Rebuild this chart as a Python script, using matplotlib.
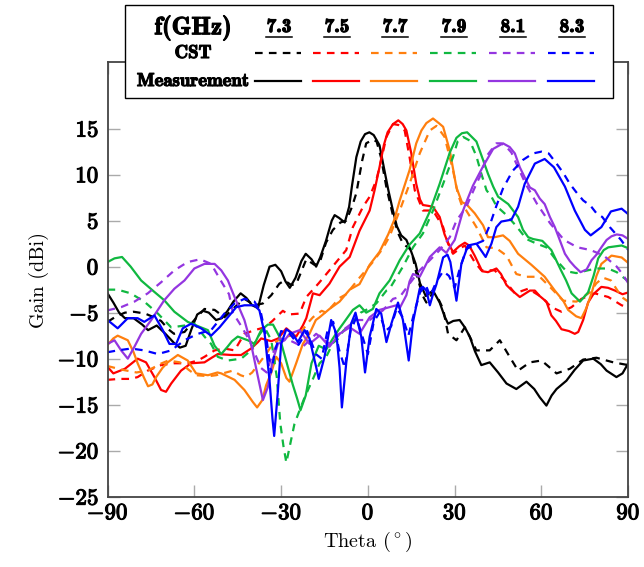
import matplotlib
matplotlib.use("Agg")
import matplotlib.pyplot as plt
import matplotlib.patheffects as pe
from matplotlib.lines import Line2D
from matplotlib.patches import Rectangle
from matplotlib.ticker import FuncFormatter, MultipleLocator

plt.rcParams['font.family'] = 'cmr10'
plt.rcParams['mathtext.fontset'] = 'cm'
plt.rcParams['axes.formatter.use_mathtext'] = True
plt.rcParams['lines.scale_dashes'] = False

# ---- data (theta in deg, gain in dBi) ----
freqs = ['7.3', '7.5', '7.7', '7.9', '8.1', '8.3']
colors = ['black', '#ff0000', '#ff7f0e', '#10b840', '#9436e0', '#0000ff']

# 7.3 GHz
theta_m73 = [-90, -88, -86, -84, -81, -78, -76, -73, -70, -67, -65, -63, -61, -59, -57, -55, -52.5, -50.5,
             -48.5, -46.5, -44, -42, -40, -38, -36, -34, -32, -30, -28.5, -27, -25, -23, -21.5, -19.5, -17.9,
             -16.5, -14.5, -12.5, -11.5, -10, -8, -6.5, -5.5, -4, -2.5, -1, 0.5, 2, 4, 5.5, 7, 8.5, 10, 11.5,
             13.3, 15, 16.5, 18, 20, 22.5, 24.8, 26.5, 27.7, 29.5, 31.7, 33.5, 35.2, 37, 39.2, 42.1, 45, 47.9,
             51.3, 54.8, 57.5, 59.4, 61.7, 63.5, 65.2, 68.6, 71.5, 74.4, 77.9, 80.5, 82.5, 85.9, 88, 90]
gain_m73 = [-2.9, -3.9, -5.0, -5.6, -5.6, -6.3, -6.9, -6.4, -7.3, -8.3, -8.8, -8.6, -6.8, -5.2, -4.8, -5.0, -5.8,
            -5.6, -4.8, -3.8, -2.9, -3.4, -4.2, -4.5, -2.0, 0.0, 0.2, -0.5, -1.6, -2.3, -1.2, 0.6, 1.4, 0.8, 0.0,
            1.0, 2.8, 5.0, 5.6, 5.3, 4.8, 6.5, 8.8, 11.9, 13.6, 14.4, 14.6, 14.3, 13.2, 10.8, 8.4, 6.3, 4.4, 3.4,
            2.9, 1.6, 0.3, -1.8, -3.2, -2.6, -3.9, -5.4, -6.2, -5.9, -5.8, -6.6, -7.6, -9.2, -10.7, -10.4, -11.5,
            -12.7, -13.3, -12.5, -13.3, -14.2, -15.1, -14.0, -13.3, -12.4, -11.2, -10.2, -10.0, -10.6, -11.3,
            -12.0, -11.6, -10.5]
theta_c73 = [-90, -87, -84, -81, -77, -74, -71.5, -69, -67, -63.4, -60, -56.5, -53, -49.6, -46, -42.7, -39.2,
             -36.3, -33.4, -30.6, -28.8, -26.5, -24.8, -21.3, -18.5, -16.7, -14.5, -12.1, -9.5, -7.5, -5.5, -4,
             -2, -0.6, 1.7, 3, 4.5, 6.4, 8.7, 10.5, 12.1, 15, 17, 19, 20.2, 22.5, 24.5, 26, 27.7, 30.6, 33.5,
             35.5, 37.5, 42.1, 45.6, 49, 51.9, 56, 60, 63, 65.2, 69.8, 74.4, 79, 84.8, 90]
gain_c73 = [-6.0, -5.4, -5.0, -4.9, -5.1, -5.5, -5.9, -6.8, -7.3, -7.1, -5.8, -4.6, -4.7, -5.5, -4.4, -3.5, -4.2,
            -4.0, -3.1, -1.85, -1.5, -2.0, -1.9, 0.8, 0.2, 0.4, 2.6, 4.0, 4.8, 5.0, 6.5, 8.0, 11.5, 13.4, 13.8,
            13.6, 11.9, 8.6, 5.5, 3.6, 2.5, 1.8, -1.1, -3.2, -3.9, -2.8, -3.6, -4.6, -7.3, -8.0, -6.6, -7.8,
            -9.1, -9.1, -8.0, -9.8, -11.3, -10.4, -10.2, -11.0, -11.6, -11.1, -10.1, -9.9, -10.4, -10.7]

# 7.5 GHz
theta_m75 = [-90, -88, -84, -82, -79.6, -76.7, -73.8, -71.5, -69.8, -68, -64.6, -61.1, -56.5, -54, -51.9, -47.3,
             -43.8, -40.4, -38, -36.9, -33.4, -31, -28.2, -26, -24.8, -22.5, -21.3, -19, -16.7, -13.3, -9.8,
             -6.3, -2.9, 0.6, 2.3, 4, 5.5, 6.8, 8.7, 10.5, 12, 13.3, 15, 16.7, 18, 19, 21, 22.5, 24.8, 26.5, 27.7,
             29.4, 31.5, 33.5, 35, 36.9, 39.5, 41.5, 44.4, 46, 47.9, 49.5, 52.5, 56, 57.7, 59.4, 61.7, 63.4, 65,
             66.9, 69.5, 71.5, 72.7, 74.4, 76.1, 77.9, 80.7, 83, 85.4, 88, 90]
gain_m75 = [-10.9, -11.6, -11.1, -10.6, -10.0, -10.4, -12.0, -13.4, -13.6, -12.7, -11.3, -10.5, -10.4, -9.9, -9.5,
            -9.6, -9.6, -8.9, -8.2, -7.8, -8.1, -7.8, -6.7, -7.3, -7.6, -6.4, -5.6, -2.9, -3.1, -1.85, 0.0, 1.05,
            3.9, 6.1, 8.3, 10.8, 13.2, 14.6, 15.5, 15.9, 15.5, 14.8, 12.3, 9.0, 7.3, 6.7, 6.6, 6.5, 5.4, 3.5,
            2.6, 1.6, 2.2, 2.6, 2.3, 1.2, -0.5, -0.6, -0.2, -0.8, -2.0, -2.5, -3.3, -2.6, -2.6, -3.2, -3.8,
            -5.3, -5.9, -6.8, -7.0, -7.3, -7.1, -5.8, -3.9, -3.0, -2.2, -2.3, -2.6, -3.0, -2.8]
theta_c75 = [-90, -86, -82, -79.6, -76.1, -71.5, -66.9, -62.3, -58.8, -56.5, -53, -49.6, -46.1, -42.7, -39.2,
             -35.7, -33, -31.1, -29.4, -27.5, -23.6, -21.3, -17, -13.3, -7.5, -5.2, -1.7, 0.6, 2.9, 4, 6.4,
             8.7, 10.5, 12.7, 14.4, 16.2, 19, 22.5, 26, 27.7, 29.4, 31.5, 33.5, 36.9, 39.2, 43.8, 47.3, 50.8,
             55.4, 60, 63.4, 66.9, 70.4, 73.8, 78.4, 83.1, 87.7, 90]
gain_c75 = [-12.3, -12.2, -12.2, -12.0, -11.3, -10.7, -10.5, -10.5, -10.2, -9.8, -9.1, -8.9, -9.1, -7.3, -6.9,
            -6.6, -5.9, -5.3, -4.8, -5.2, -5.1, -3.3, -1.8, -0.4, 1.8, 4.3, 6.5, 7.6, 9.4, 10.8, 14.1, 15.5,
            15.4, 14.8, 11.9, 8.3, 6.1, 6.1, 4.3, 2.5, 1.4, 1.9, 2.3, 0.5, -0.4, -0.4, -1.5, -2.9, -2.4, -3.3,
            -4.4, -4.9, -4.4, -3.5, -2.9, -3.3, -4.2, -4.4]

# 7.7 GHz
theta_m77 = [-90, -88, -86.5, -83, -81, -79.6, -77.5, -76, -74.5, -73.2, -71, -69.2, -65.7, -62.3, -59.4, -55.3,
             -52, -50.7, -46.1, -42.7, -39.8, -38.3, -36.5, -35.2, -33.4, -31.7, -30, -28.2, -27.1, -24.8, -22.5,
             -20.2, -18, -16.7, -13.3, -9.8, -6.3, -2.9, 0.6, 4, 7, 9, 11, 14.4, 16.7, 18.5, 20.2, 22.5, 24.5, 26,
             28.3, 30.6, 32.5, 34, 36.9, 39.8, 41.5, 43.8, 46.7, 49, 51.9, 56.5, 61.1, 64.6, 67.5, 69.2, 72,
             73.8, 75.5, 77.3, 79, 80.7, 84.2, 87.7, 90]
gain_m77 = [-8.5, -7.8, -7.5, -8.0, -9.3, -10.5, -12.0, -13.0, -12.8, -12.0, -11.0, -10.4, -9.6, -10.2, -11.6,
            -11.8, -11.5, -11.6, -12.3, -13.4, -14.7, -15.3, -14.5, -12.9, -11.5, -9.8, -10.5, -12.1, -12.5, -10.5,
            -8.4, -7.3, -5.8, -5.5, -4.6, -3.8, -2.5, -1.9, 0.2, 1.6, 3.5, 5.0, 7.2, 10.5, 13.4, 14.8, 15.6, 16.1,
            15.6, 15.2, 12.6, 8.6, 7.0, 6.8, 5.8, 4.5, 3.2, 3.2, 3.4, 2.8, 1.4, 0.2, -1.1, -2.6, -3.7, -4.7,
            -5.4, -5.6, -4.5, -2.9, -1.0, 0.3, 1.2, 1.0, 0.4]
theta_c77 = [-90, -85, -80, -76, -72, -69, -65, -62, -59.4, -55, -52.5, -49, -46.7, -44, -42.1, -40, -38.6, -35.2,
             -32.9, -30, -28.2, -23.6, -21, -19, -16, -14.4, -9.8, -7.5, -2.9, 1.7, 5.2, 7.5, 11, 14.4, 17.9,
             21.4, 23.7, 26.5, 29.4, 31.1, 32.5, 34, 37.5, 41, 44.4, 47.9, 51.3, 54.8, 59.4, 62.9, 67.5, 72.1,
             76.7, 79, 81.3, 84, 87.7, 90]
gain_c77 = [-10.8, -11.2, -11.5, -11.3, -10.6, -10.2, -10.4, -11.2, -11.8, -11.9, -11.8, -11.5, -11.3, -11.8, -12.0,
            -11.5, -10.9, -9.5, -8.4, -7.8, -7.6, -7.3, -6.2, -5.5, -4.8, -5.0, -3.4, -3.0, -1.2, 0.5, 2.0, 3.3,
            6.1, 9.0, 12.3, 14.8, 15.3, 14.1, 10.5, 7.9, 6.6, 6.1, 4.3, 2.1, 2.0, 1.2, -0.8, -1.1, -1.1, -2.2,
            -3.7, -3.8, -2.8, -1.8, -1.2, -1.5, -3.3, -3.8]

# 7.9 GHz
theta_m79 = [-90, -87.6, -85, -82, -78.4, -73.8, -70.4, -66.9, -62.3, -57.7, -55.3, -53, -50.7, -48.5, -47, -45,
             -41.5, -39.2, -36.9, -34.6, -32.8, -30.6, -28.2, -26, -24.5, -23.3, -21.5, -19.5, -17, -14.4, -12.1,
             -10, -8.6, -5.2, -2.9, -0.6, 1.7, 4, 7.5, 11, 14.4, 17.9, 21.4, 24.8, 28.3, 30.6, 32.5, 34.3, 37.5,
             39.8, 41.5, 43.3, 45, 48.5, 50.2, 51.9, 53.6, 55.4, 57.1, 60.3, 63.4, 66.9, 68.5, 70.4, 73.3, 76.1,
             78, 79.6, 81.5, 83.1, 87.7, 90]
gain_m79 = [0.5, 0.9, 1.05, 0.0, -1.5, -2.75, -3.65, -4.9, -6.0, -6.6, -6.9, -8.6, -9.5, -8.7, -8.1, -7.6, -8.0,
            -8.4, -6.9, -6.3, -6.3, -7.6, -10.3, -12.8, -14.3, -15.6, -14.0, -10.5, -8.6, -9.0, -7.8, -6.8, -6.2,
            -4.7, -4.2, -5.0, -4.6, -2.9, -1.5, 0.7, 2.4, 3.6, 6.0, 9.0, 12.4, 14.0, 14.5, 14.6, 13.6, 11.6, 10.1,
            8.7, 7.6, 6.8, 6.1, 5.4, 4.0, 3.2, 3.0, 2.8, 1.8, -0.5, -1.5, -2.9, -3.8, -2.8, -1.0, 0.9, 1.8, 2.1,
            2.3, 2.0]
theta_c79 = [-90, -86.5, -82, -77.3, -72.6, -68, -63.4, -60, -56.5, -54.2, -51.9, -48.4, -43.8, -40.4, -38, -35.7,
             -33.4, -31.5, -30.3, -29.2, -28.2, -27, -25.4, -23.6, -22, -19, -16.7, -14.4, -12.1, -9.8, -8.6,
             -5.2, -2.5, -0.6, 2.9, 6.4, 7.5, 12.1, 15.6, 19, 22.5, 26, 29.4, 31, 32.9, 35.2, 37.5, 39.2, 41,
             42.7, 44.4, 47.9, 51.3, 54.8, 58.3, 61.7, 64.6, 68.6, 72, 76, 79, 83, 86, 88, 90]
gain_c79 = [-2.5, -2.5, -2.9, -3.8, -5.1, -6.6, -6.4, -6.2, -7.6, -8.4, -9.8, -10.2, -10.0, -9.1, -7.6, -6.6, -8.0,
            -12.0, -17.0, -19.5, -21.3, -19.5, -17.1, -15.6, -14.3, -12.2, -10.5, -9.8, -8.3, -7.7, -7.0, -6.0,
            -5.0, -4.7, -4.0, -2.6, -2.4, 0.0, 2.1, 3.6, 6.1, 9.0, 11.9, 13.6, 14.1, 13.7, 12.0, 10.1, 8.3, 7.6,
            6.6, 5.6, 4.4, 3.0, 2.5, 2.1, 0.9, -0.5, -0.7, -0.4, -0.2, -0.2, -0.6, -1.1, -1.6]

# 8.1 GHz
theta_m81 = [-90, -87.6, -85.3, -83, -80.7, -78.4, -74.9, -72.6, -70.4, -66.9, -63.4, -60, -56.5, -53, -50.7,
             -48.4, -46.1, -42.7, -40.4, -38, -36.3, -34.6, -32.9, -31.1, -28.8, -27.1, -23.6, -20.2, -16.7,
             -13.3, -9.8, -6.3, -2.9, 0.6, 4, 7.5, 9.8, 11, 13.3, 14.4, 15.6, 17.9, 21.4, 24.8, 27.1, 28.3, 30,
             32.9, 34, 36.3, 39.8, 43.3, 46.7, 49, 50.8, 52.5, 54.2, 56, 57.7, 59.4, 61.1, 62.9, 64.6, 66.3, 68.1,
             69.8, 71.5, 73.5, 75.6, 77.3, 79, 80.7, 82.5, 84.2, 86, 88, 90]
gain_m81 = [-8.4, -8.0, -9.1, -10.0, -8.7, -7.3, -5.8, -4.7, -3.65, -2.4, -1.5, -0.2, 0.3, 0.3, -0.4, -1.5, -3.3,
            -5.8, -8.4, -12.0, -14.5, -13.1, -10.2, -8.4, -8.0, -7.3, -6.9, -8.4, -7.5, -8.7, -7.3, -6.6, -7.3,
            -5.5, -4.7, -4.4, -4.2, -4.5, -3.1, -1.6, -0.8, -1.1, 1.05, 2.1, 1.5, 2.1, 2.9, 6.1, 7.0, 8.8, 10.9,
            12.8, 13.4, 13.0, 12.3, 10.8, 9.7, 8.6, 8.3, 7.4, 6.8, 5.4, 4.3, 2.9, 1.4, 0.6, 0.0, -0.6, -0.3, 0.7,
            1.3, 2.1, 2.9, 3.3, 3.5, 3.4, 3.0]
theta_c81 = [-90, -85.3, -80.7, -76.1, -71.5, -66.9, -62.3, -58, -54.2, -50.7, -48, -46.7, -43.5, -41, -39, -37,
             -35, -33, -30.5, -27.1, -22.5, -17.9, -13.3, -8.6, -4, 0.6, 5.2, 8.7, 11, 14.4, 17.9, 21.4, 24.8,
             28.3, 30.6, 34, 37.5, 39.2, 41, 42.7, 44.4, 46.1, 47.9, 49.6, 51.3, 54.5, 58.5, 63, 67.8, 72.4, 77,
             81.5, 86, 88, 90]
gain_c81 = [-4.75, -4.4, -3.8, -2.9, -1.7, -0.4, 0.5, 0.8, 0.3, -1.6, -3.0, -5.0, -6.6, -8.0, -9.5, -11.0, -11.5,
            -9.5, -7.8, -8.0, -8.7, -7.3, -8.4, -6.9, -5.8, -5.8, -4.75, -3.5, -3.3, -1.85, -0.4, 0.7, 1.8, 3.2,
            5.0, 6.5, 9.0, 10.1, 12.0, 12.7, 13.4, 13.4, 13.0, 12.4, 11.2, 9.0, 6.8, 4.7, 2.9, 2.1, 1.8, 1.2,
            0.0, -0.8, -1.8]

# 8.3 GHz
theta_m83 = [-90, -86.5, -83, -79.6, -77.3, -73.8, -70.9, -68.6, -66.3, -64, -61.1, -57.7, -54.2, -51.3, -48.4,
             -45.5, -42.7, -39.2, -37.5, -35.7, -34, -33, -32.4, -31.5, -31.1, -30, -28.2, -26, -24.2, -21.9,
             -20.2, -17.9, -17, -15, -12.7, -10.9, -9.8, -9, -7.5, -5.8, -4.3, -2.3, -1, 0.6, 2.9, 4.6, 6.4, 8.1,
             10.4, 12.1, 14.1, 15.6, 17.9, 19, 20.2, 21.4, 22.5, 23.7, 26, 27.5, 28.5, 30.6, 32.3, 34.6, 37.5,
             39.5, 40.7, 42.7, 44.4, 46.1, 49.6, 51.9, 54.2, 57.7, 61.1, 64.3, 68.1, 71.5, 75, 77, 80.7, 84, 87.7,
             90]
gain_m83 = [-5.8, -6.7, -5.6, -5.6, -6.0, -5.3, -6.9, -8.4, -8.4, -6.7, -6.2, -6.7, -7.5, -6.6, -5.5, -4.4, -4.2,
            -4.2, -4.75, -7.3, -12.4, -16.5, -18.4, -15.0, -13.4, -8.4, -6.8, -7.3, -8.2, -6.9, -7.8, -10.9,
            -12.2, -9.8, -5.8, -7.3, -11.0, -15.3, -10.5, -6.2, -5.0, -7.6, -11.5, -7.6, -4.6, -5.1, -8.2, -6.2,
            -3.9, -5.8, -10.2, -6.0, -2.4, -2.2, -2.6, -4.2, -3.0, -1.9, 1.0, 1.3, 0.5, -3.7, 0.3, 2.3, 2.5, 1.6,
            1.05, 2.5, 4.3, 4.9, 5.1, 6.5, 9.0, 11.2, 11.7, 10.8, 8.7, 6.1, 4.0, 3.4, 4.3, 6.0, 6.3, 5.7]
theta_c83 = [-90, -86.5, -81.9, -77.3, -72.6, -68, -63.4, -58.8, -54.2, -49.6, -46.1, -42.7, -39.2, -37, -35,
             -33.5, -32, -30, -27, -24, -21, -18, -16, -14, -12, -10, -8, -6, -4, -2, 0, 2, 4, 6, 8, 10, 12, 14,
             16, 18, 20, 21.5, 23.7, 26, 28, 30, 31.5, 34, 37.5, 39.8, 42, 44.4, 46.7, 50, 53.6, 57, 60, 62.5,
             65.2, 67.5, 69.8, 72, 74.4, 77, 79, 81, 83.6, 87.5, 90]
gain_c83 = [-9.3, -9.1, -8.9, -9.1, -9.5, -9.1, -8.0, -7.3, -6.9, -5.1, -4.0, -3.5, -3.8, -5.0, -8.0, -11.5, -9.0,
            -7.0, -7.3, -8.5, -7.0, -9.5, -10.0, -7.0, -6.0, -9.0, -11.0, -7.0, -5.5, -7.5, -9.5, -6.0, -5.0,
            -7.0, -6.5, -4.5, -5.5, -7.5, -5.0, -2.8, -2.0, -3.2, -1.6, -0.5, -1.0, -2.3, -0.5, 1.9, 2.5, 2.8,
            4.4, 6.6, 8.5, 10.4, 11.6, 12.3, 12.5, 12.3, 11.2, 10.2, 9.0, 8.1, 7.2, 6.6, 5.8, 5.4, 4.3, 2.9, 1.8]

meas = [(theta_m73, gain_m73), (theta_m75, gain_m75), (theta_m77, gain_m77),
        (theta_m79, gain_m79), (theta_m81, gain_m81), (theta_m83, gain_m83)]
cst = [(theta_c73, gain_c73), (theta_c75, gain_c75), (theta_c77, gain_c77),
       (theta_c79, gain_c79), (theta_c81, gain_c81), (theta_c83, gain_c83)]

DASH = (0, (5.5, 4.5))
LW = 1.6
# cmb10 is lighter than the bold-extended CM face of the original, so thicken it a bit
BOLD = [pe.withStroke(linewidth=0.8, foreground='black')]

fig = plt.figure(figsize=(6.44, 5.67), dpi=100)
ax = fig.add_axes([0.167, 0.124, 0.8086, 0.766])

for (tc, gc), (tm, gm), col in zip(cst, meas, colors):
    ax.plot(tc, gc, color=col, lw=LW, linestyle=DASH)
    ax.plot(tm, gm, color=col, lw=LW)

ax.set_xlim(-90, 90)
ax.set_ylim(-25, 22.2)
ax.xaxis.set_major_locator(MultipleLocator(30))
ax.set_yticks([-25, -20, -15, -10, -5, 0, 5, 10, 15])

fmt = FuncFormatter(lambda v, p: r'$\mathbf{%d}$' % int(round(v)))
ax.xaxis.set_major_formatter(fmt)
ax.yaxis.set_major_formatter(fmt)
ax.tick_params(direction='in', length=8.5, width=1.0, color='#aaaaaa',
               top=True, right=True, labelsize=16.5)
ax.tick_params(axis='x', pad=5)
ax.tick_params(axis='y', pad=6)
for t in ax.xaxis.get_major_ticks() + ax.yaxis.get_major_ticks():
    t.label1.set_path_effects(BOLD)
for s in ax.spines.values():
    s.set_color('#444444')
    s.set_linewidth(1.3)

ax.set_xlabel(r'Theta ($^\circ$)', fontsize=14.5, labelpad=5)
ax.set_ylabel('Gain (dBi)', fontsize=14.5, labelpad=6)

# ---- table-style legend on top ----
W, H = 644.0, 567.0
fig.add_artist(Rectangle((125 / W, 1 - 98 / H), 488 / W, 93 / H, transform=fig.transFigure,
                         facecolor='white', edgecolor='black', lw=1.0, zorder=10))
col_x = [279, 337, 395, 454, 513, 572]
row_y = [28, 53, 81]
fig.text(193 / W, 1 - row_y[0] / H, 'f(GHz)', family='cmb10', fontsize=18,
         ha='center', va='center', zorder=11, path_effects=BOLD)
fig.text(193 / W, 1 - row_y[1] / H, 'CST', family='cmb10', fontsize=13.5,
         ha='center', va='center', zorder=11, path_effects=BOLD)
fig.text(193 / W, 1 - row_y[2] / H, 'Measurement', family='cmb10', fontsize=13.5,
         ha='center', va='center', zorder=11, path_effects=BOLD)
for cx, f, col in zip(col_x, freqs, colors):
    fig.text(cx / W, 1 - (row_y[0] - 1) / H, f, family='cmb10', fontsize=14,
             ha='center', va='center', zorder=11, path_effects=BOLD)
    fig.add_artist(Line2D([(cx - 13) / W, (cx + 13) / W], [1 - 37 / H] * 2, color='black',
                          lw=1.1, transform=fig.transFigure, zorder=11))
    fig.add_artist(Line2D([(cx - 24) / W, (cx + 22) / W], [1 - row_y[1] / H] * 2, color=col,
                          lw=LW, linestyle=DASH, transform=fig.transFigure, zorder=11))
    fig.add_artist(Line2D([(cx - 24) / W, (cx + 22) / W], [1 - row_y[2] / H] * 2, color=col,
                          lw=LW, transform=fig.transFigure, zorder=11))

fig.savefig('out.png', dpi=100, facecolor='white')
